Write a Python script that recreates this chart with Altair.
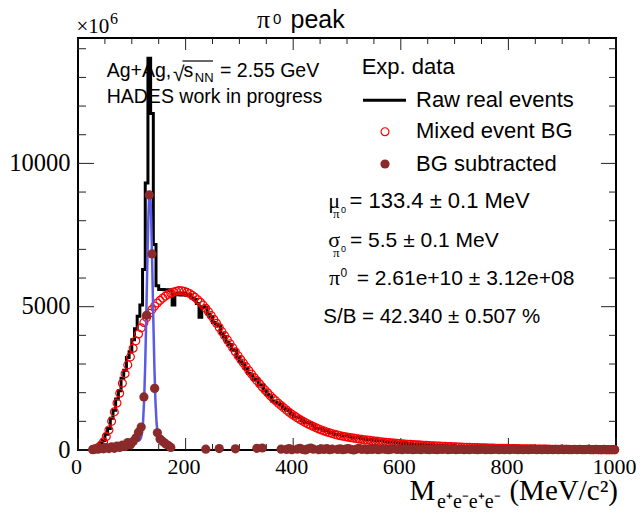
import altair as alt
import pandas as pd

# ---------------- data ----------------
# Mixed-event background, 5 MeV bins starting at 27.5 MeV
bg_values = [
    10, 40, 90, 170, 290, 470, 700, 1000, 1330, 1640,
    1980, 2330, 2660, 2970, 3250, 3550, 3810, 4050, 4260, 4450,
    4620, 4770, 4900, 5020, 5130, 5220, 5300, 5370, 5430, 5470,
    5510, 5540, 5560, 5555, 5535, 5500, 5455, 5395, 5325, 5245,
    5155, 5055, 4945, 4825, 4695, 4560, 4420, 4275, 4130, 3990,
    3850, 3710, 3570, 3430, 3290, 3155, 3030, 2900, 2775, 2650,
    2530, 2420, 2310, 2200, 2095, 1995, 1895, 1800, 1715, 1630,
    1550, 1470, 1395, 1320, 1250, 1185, 1125, 1065, 1010, 960,
    910, 865, 820, 775, 735, 700, 665, 630, 600, 570,
    545, 520, 500, 480, 460, 445, 430, 415, 400, 385,
    370, 355, 345, 335, 322, 310, 300, 290, 280, 270,
    260, 250, 240, 232, 225, 218, 210, 203, 197, 190,
    184, 178, 172, 167, 162, 156, 151, 146, 141, 136,
    131, 127, 122, 118, 114, 110, 106, 102, 99, 95,
    92, 89, 86, 83, 80, 77, 74, 72, 69, 67,
    64, 62, 60, 58, 56, 54, 52, 50, 48, 46,
    44, 42, 41, 39, 37, 36, 34, 33, 31, 30,
    29, 27, 26, 25, 24, 23, 22, 21, 20, 19,
    18, 17, 16, 15, 15, 14, 13, 12, 12, 11,
    10, 10, 9, 9, 8,
]

# Background-subtracted signal, same bins
sub_values = [
    20, 40, 30, 60, 40, 80, 50, 110, 60, 140,
    90, 170, 120, 260, 180, 300, 420, 620, 800, 1850,
    4700, 8900, 6840, 2150, 600, 380, 300, 220, 160, 90,
    -450, -120, -80, -150, -60, -100, -40, -90, -70, -130,
    -520, -60, 30, -80, -50, -110, -20, 50, -70, -40,
    -90, -30, -60, 40, -50, -80, -20, -60, -100, -30,
    -70, 60, -40, 70, -30, -60, -20, -90, -40, -10,
    30, -20, 20, 50, 10, -30, 30, 60, 20, 0,
    40, 70, 30, -20, 10, 40, 20, 50, 10, 30,
    -10, 20, 40, 10, 30, 50, 20, 0, 30, 60,
    20, 40, 10, 30, 20, 50, 10, 30, 40, 20,
    10, 30, 50, 20, 30, 10, 40, 20, 30, 10,
    20, 30, 10, 40, 20, 10, 30, 20, 10, 30,
    20, 40, 10, 20, 30, 10, 20, 30, 10, 20,
    10, 30, 20, 10, 20, 30, 10, 20, 10, 20,
    30, 10, 20, 10, 20, 10, 30, 20, 10, 20,
    10, 20, 10, 20, 30, 10, 20, 10, 20, 10,
    20, 10, 20, 10, 20, 10, 20, 10, 10, 20,
    10, 20, 10, 10, 20, 10, 10, 20, 10, 10,
    20, 10, 10, 10, 10,
]

# Gaussian fit curve (blue)
fit_mass = [100, 105, 110, 113, 115, 117, 119, 121, 123, 125, 127, 129, 131, 132,
            133.4, 135, 136, 138, 140, 142, 144, 146, 148, 150, 152, 154, 157, 161, 167]
fit_values = [320, 320, 321, 329, 352, 422, 603, 1006, 1773, 3033, 4740, 6637, 8232, 8743,
              9020, 8660, 8100, 6452, 4557, 2883, 1677, 951, 577, 411, 349, 328, 321, 320, 320]

x_major = [0, 200, 400, 600, 800, 1000]
x_minor = [50, 100, 150, 250, 300, 350, 450, 500, 550, 650, 700, 750, 850, 900, 950]
y_major = [0, 5000, 10000]
y_minor = [1000, 2000, 3000, 4000, 6000, 7000, 8000, 9000, 11000, 12000, 13000, 14000]

# ---------------- tables ----------------
n = min(len(bg_values), len(sub_values))
mass = [27.5 + 5 * i for i in range(n)]
hist = pd.DataFrame({"mass": mass, "bg": bg_values[:n], "sub": sub_values[:n]})
hist["raw"] = hist["bg"] + hist["sub"]
fit = pd.DataFrame({"fm": fit_mass, "fv": fit_values})

W, H = 538, 412
SANS = "Liberation Sans"
SERIF = "Liberation Serif"

xs = alt.Scale(domain=[0, 1000], nice=False, zero=False)
ys = alt.Scale(domain=[0, 14375], nice=False, zero=False)
xaxis = alt.Axis(values=x_major, title=None, ticks=False, tickSize=0, domain=False, grid=False,
                 labelFont=SERIF, labelFontSize=22, labelColor="black", labelPadding=6,
                 labelFlush=False, labelOverlap=False, labelOffset=-2, format="d")
yaxis = alt.Axis(values=y_major, title=None, ticks=False, tickSize=0, domain=False, grid=False,
                 labelFont=SERIF, labelFontSize=24.5, labelColor="black", labelPadding=8,
                 labelFlush=False, labelOverlap=False, format="d")


def X(f):
    return alt.X(f, type="quantitative", scale=xs, axis=xaxis)


def Y(f):
    return alt.Y(f, type="quantitative", scale=ys, axis=yaxis)


# ---------------- inward ticks ----------------
dxM = pd.DataFrame({"t": x_major})
dxm = pd.DataFrame({"t": x_minor})
dyM = pd.DataFrame({"t": y_major})
dym = pd.DataFrame({"t": y_minor})
TC = "#222222"
ticks = [
    alt.Chart(dxM).mark_rule(color=TC, strokeWidth=1).encode(x=X("t"), y=alt.value(H), y2=alt.value(H - 12)),
    alt.Chart(dxm).mark_rule(color=TC, strokeWidth=1).encode(x=X("t"), y=alt.value(H), y2=alt.value(H - 6)),
    alt.Chart(dxM).mark_rule(color=TC, strokeWidth=1).encode(x=X("t"), y=alt.value(0), y2=alt.value(12)),
    alt.Chart(dxm).mark_rule(color=TC, strokeWidth=1).encode(x=X("t"), y=alt.value(0), y2=alt.value(6)),
    alt.Chart(dyM).mark_rule(color=TC, strokeWidth=1).encode(y=Y("t"), x=alt.value(0), x2=alt.value(16)),
    alt.Chart(dym).mark_rule(color=TC, strokeWidth=1).encode(y=Y("t"), x=alt.value(0), x2=alt.value(8)),
    alt.Chart(dyM).mark_rule(color=TC, strokeWidth=1).encode(y=Y("t"), x=alt.value(W), x2=alt.value(W - 15)),
    alt.Chart(dym).mark_rule(color=TC, strokeWidth=1).encode(y=Y("t"), x=alt.value(W), x2=alt.value(W - 7)),
]

# ---------------- data layers ----------------
raw_line = alt.Chart(hist).mark_line(interpolate="step", color="black", strokeWidth=3).encode(
    x=X("mass"), y=Y("raw"))
bg_pts = alt.Chart(hist).mark_point(shape="circle", filled=False, color="#ff0000", size=62,
                                    strokeWidth=1.2, opacity=1).encode(x=X("mass"), y=Y("bg"))
fit_line = alt.Chart(fit).mark_line(color="#5a5ae6", strokeWidth=2.5).encode(x=X("fm"), y=Y("fv"))
sub_pts = alt.Chart(hist).transform_filter("datum.sub >= 0").mark_circle(
    color="#8b2a2a", size=85, opacity=1).encode(x=X("mass"), y=Y("sub"))

ONE = alt.Data(values=[{}])


def txt(s, x, y, size, font=SANS, align="left", color="black"):
    return alt.Chart(ONE).mark_text(text=s, font=font, fontSize=size, align=align,
                                    baseline="alphabetic", color=color).encode(
        x=alt.value(x), y=alt.value(y))


notes = [
    # title
    txt("π", 179, -10.5, 26, SERIF),
    txt("0", 195, -14.5, 15),
    txt("peak", 212.5, -10.5, 25),
    # exponent
    txt("×10", -1.5, -4.7, 21, SERIF),
    txt("6", 32, -14, 16, SERIF),
    # system label
    txt("Ag+Ag,", 28.7, 39.3, 19.5),
    txt("√", 95, 43, 21),
    txt("s", 105.5, 39.3, 19.5),
    txt("NN", 116.8, 44, 13),
    txt("= 2.55 GeV", 142, 39.3, 19.5),
    txt("HADES work in progress", 28.7, 65.3, 19.5),
    # legend
    txt("Exp. data", 283.7, 36.3, 22),
    txt("Raw real events", 338, 68.7, 22),
    txt("Mixed event BG", 338, 100.3, 22),
    txt("BG subtracted", 338, 132.7, 22),
    # fit results
    txt("μ", 250.3, 170.3, 22, SERIF),
    txt("π", 255, 180.3, 13, SERIF),
    txt("0", 263, 175, 9),
    txt("= 133.4 ± 0.1 MeV", 271.5, 170.3, 22),
    txt("σ", 250.3, 208.7, 22, SERIF),
    txt("π", 255, 218.7, 13, SERIF),
    txt("0", 263, 213.7, 9),
    txt("= 5.5 ± 0.1 MeV", 272, 208.7, 21),
    txt("π", 251, 247, 22, SERIF),
    txt("0", 262.5, 238.7, 12),
    txt("= 2.61e+10 ± 3.12e+08", 278.7, 247, 21),
    txt("S/B = 42.340 ± 0.507 %", 245.3, 285.3, 20.5),
    # axis title
    txt("M", 331.5, 462, 29, SERIF),
    txt("e⁺e⁻e⁺e⁻", 359, 469.5, 20, SERIF),
    txt("(MeV/c²)", 540, 462, 29, SERIF, align="right"),
]

sqrt_bar = alt.Chart(ONE).mark_rule(color="black", strokeWidth=1.2).encode(
    x=alt.value(104.5), x2=alt.value(135), y=alt.value(23))
leg_line = alt.Chart(ONE).mark_rule(color="black", strokeWidth=3).encode(
    x=alt.value(285), x2=alt.value(328), y=alt.value(62.3))
leg_open = alt.Chart(ONE).mark_point(shape="circle", filled=False, color="#ff0000", size=62,
                                     strokeWidth=1.2, opacity=1).encode(x=alt.value(307), y=alt.value(93.7))
leg_fill = alt.Chart(ONE).mark_circle(color="#8b2a2a", size=85, opacity=1).encode(
    x=alt.value(307), y=alt.value(126))

chart = alt.layer(
    *ticks, raw_line, bg_pts, fit_line, sub_pts,
    sqrt_bar, leg_line, leg_open, leg_fill, *notes,
).properties(
    width=W, height=H,
    autosize=alt.AutoSizeParams(type="none"),
    padding={"left": 70, "top": 30, "right": 20, "bottom": 61},
    background="white",
).configure_view(stroke="black", strokeWidth=2)

chart.save("out.html", embed_options={"renderer": "svg", "actions": False})
